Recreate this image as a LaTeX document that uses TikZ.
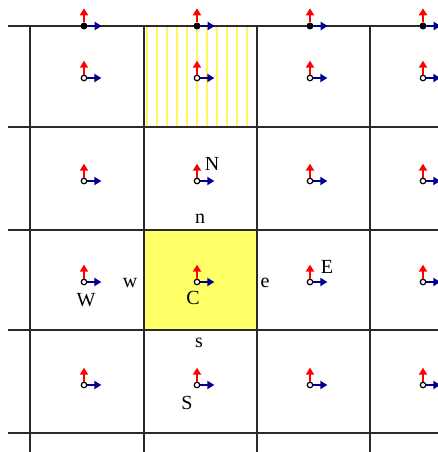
\documentclass[tikz,border=0pt]{standalone}
\usepackage{fontspec}
\setmainfont{Liberation Serif}
\usetikzlibrary{arrows.meta}
\definecolor{cvred}{HTML}{FF0000}
\definecolor{cvblue}{HTML}{00008B}
\definecolor{cvyellow}{HTML}{FFFF66}
\definecolor{gridgray}{HTML}{2A2A2A}

\begin{document}
\begin{tikzpicture}[x=1pt,y=-1pt,>={Triangle[length=7pt,width=8pt]}]
\tikzset{
 gridline/.style={draw=gridgray,line width=1.4pt},
 uvel/.style={->,draw=cvred,line width=1.8pt},
 vvel/.style={->,draw=cvblue,line width=1.8pt},
 pnode/.style={circle,draw=black,fill=white,inner sep=0pt,minimum size=5.5pt,line width=1.2pt},
 fnode/.style={circle,fill=black,inner sep=0pt,minimum size=7pt},
 lbl/.style={inner sep=0pt,font=\fontsize{20}{20}\selectfont}
}
\useasboundingbox (0,0) rectangle (438,452);
% control volume and hatched cell
\fill[cvyellow] (144,230) rectangle (257,330);
\foreach \x in {147,157,...,247}
  \draw[yellow!65,line width=1.8pt] (\x,26) -- (\x,127);
% grid
\foreach \y in {26,127,230,330,433}
  \draw[gridline] (8,\y) -- (438,\y);
\foreach \x in {30,144,257,370}
  \draw[gridline] (\x,26) -- (\x,452);
% velocity points
\foreach \x [count=\i] in {84,197,310,423} {
  \foreach \y [count=\j] in {26,78,181,282,385} {
    \ifnum\j=1
      \node[fnode] (p\i\j) at (\x,\y) {};
    \else
      \node[pnode] (p\i\j) at (\x,\y) {};
    \fi
    \draw[uvel] (p\i\j.north) -- ++(0,-14);
    \draw[vvel] (p\i\j.east) -- ++(14,0);
  }
}
% labels
\node[lbl] (N) at (212,164) {N};
\node[lbl] (n) at (200,219) {n};
\node[lbl] (w) at (130,283) {w};
\node[lbl] (e) at (265,283) {e};
\node[lbl] (C) at (193,298) {C};
\node[lbl] (W) at (86,300) {W};
\node[lbl] (E) at (327,267) {E};
\node[lbl] (s) at (199,343) {s};
\node[lbl] (S) at (187,403) {S};
\end{tikzpicture}
\end{document}
